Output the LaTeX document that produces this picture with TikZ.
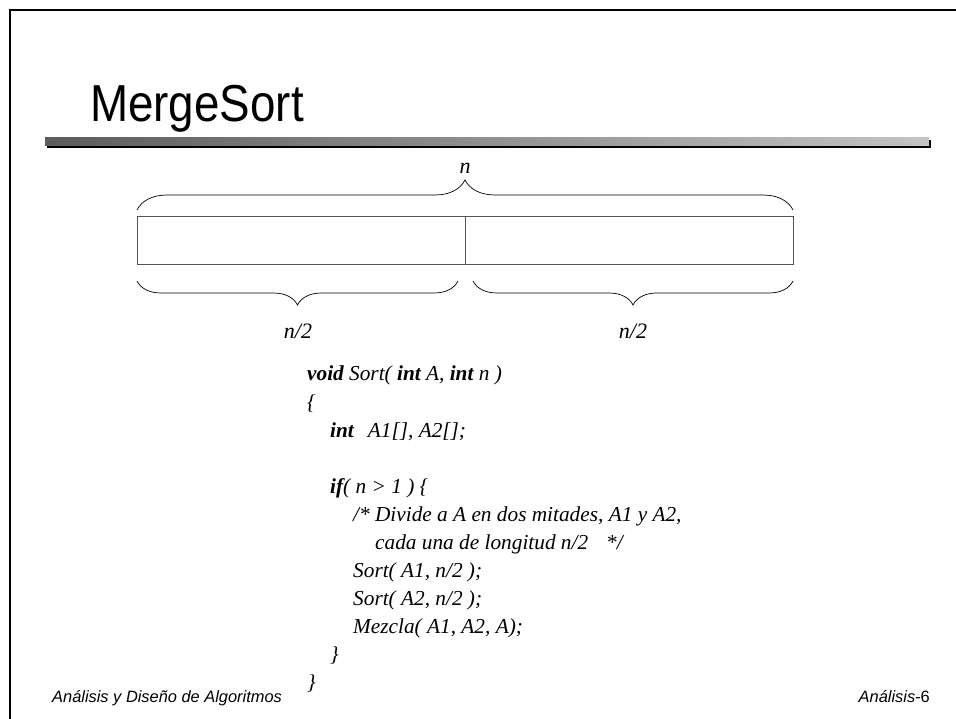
\documentclass[tikz,border=0pt]{standalone}
\usepackage{fontspec}
\setmainfont{Liberation Serif}
\newfontfamily\arialf{Liberation Sans}
\usetikzlibrary{decorations.pathreplacing}
\definecolor{bardark}{HTML}{5C5C5C}
\definecolor{barlight}{HTML}{C4C4C4}
\definecolor{boxgray}{HTML}{555555}
\begin{document}
\begin{tikzpicture}[x=1pt,y=-1pt,
  codeline/.style={anchor=base west, inner sep=0, font=\itshape\fontsize{21.3}{26}\selectfont},
  lbl/.style={inner sep=0, font=\itshape\fontsize{22}{26}\selectfont},
  half/.style={draw=boxgray, line width=0.8pt, minimum height=48pt, inner sep=0, anchor=north west},
  footer/.style={inner sep=0, font=\arialf\itshape\fontsize{16.4}{20}\selectfont},
  bracestyle/.style={decorate, line width=0.7pt}]
\useasboundingbox (0,0) rectangle (956,719);
\fill[white] (0,0) rectangle (956,719);
% slide border
\draw[line width=2.6pt] (10,719) -- (10,10) -- (956,10);
% title
\node[anchor=base west, inner sep=0, font=\arialf\fontsize{52}{60}\selectfont, xscale=0.88] (title) at (90,122) {MergeSort};
% gray bar with shadow
\fill[black] (47,140.5) rectangle (931,148);
\shade[left color=bardark, right color=barlight] (45,138) rectangle (929,146);
% array box
\node[half, minimum width=328pt] (lefthalf) at (137,216) {};
\node[half, minimum width=328pt] (righthalf) at (465,216) {};
% braces
\coordinate (ta) at (137,210);
\coordinate (tb) at (793,210);
\draw[bracestyle, decoration={brace, amplitude=30pt}] (ta) -- (tb);
\node[lbl] (nlab) at (465,168) {n};
\coordinate (la) at (137,281);
\coordinate (lb) at (458,281);
\coordinate (ra) at (473,281);
\coordinate (rb) at (793,281);
\draw[bracestyle, decoration={brace, amplitude=24pt}] (lb) -- (la);
\draw[bracestyle, decoration={brace, amplitude=24pt}] (rb) -- (ra);
\node[lbl] (lhalf) at (298,331) {n/2};
\node[lbl] (rhalf) at (633,331) {n/2};
% code
\node[codeline] (c1) at (307,381) {\textbf{void} Sort( \textbf{int} A, \textbf{int} n )};
\node[codeline] (c2) at (307,409) {\{};
\node[codeline] (c3) at (330,437) {\textbf{int}\hspace{14pt}A1[], A2[];};
\node[codeline] (c4) at (330,493) {\textbf{if}( n > 1 ) \{};
\node[codeline] (c5) at (353,521) {/* Divide a A en dos mitades, A1 y A2,};
\node[codeline] (c6) at (375,549) {cada una de longitud n/2\hspace{18pt}*/};
\node[codeline] (c7) at (353,577) {Sort( A1, n/2 );};
\node[codeline] (c8) at (353,605) {Sort( A2, n/2 );};
\node[codeline] (c9) at (353,633) {Mezcla( A1, A2, A);};
\node[codeline] (c10) at (330,661) {\}};
\node[codeline] (c11) at (307,689) {\}};
% footer
\node[footer, anchor=base west] (fl) at (52,702) {Análisis y Diseño de Algoritmos};
\node[footer, anchor=base east] (fr) at (930,702) {Análisis-\upshape 6};
\end{tikzpicture}
\end{document}
